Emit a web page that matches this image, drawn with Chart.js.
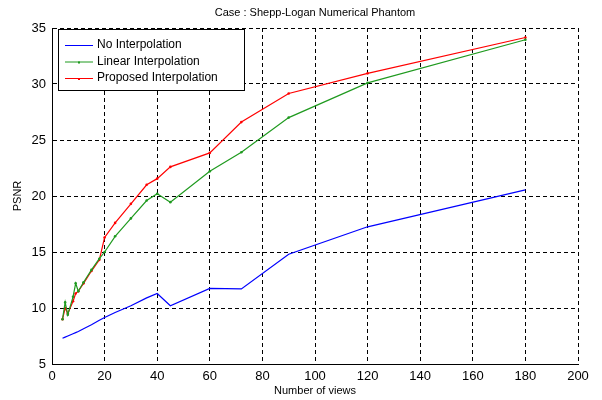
<!DOCTYPE html>
<html lang="en">
<head>
<meta charset="UTF-8">
<title>Case : Shepp-Logan Numerical Phantom</title>
<script src="https://cdn.jsdelivr.net/npm/chart.js"></script>
<style>
  html, body { margin: 0; padding: 0; background: #fff; }
</style>
</head>
<body>
<canvas id="grafica" width="602" height="400"></canvas>
<script>
// datos
const views = [4, 5, 6, 8, 9, 10, 12, 15, 18, 20, 24, 30, 36, 40, 45, 60, 72, 90, 120, 180];
const noInterp = [7.3, 7.4, 7.5, 7.7, 7.8, 7.9, 8.15, 8.5, 8.9, 9.15, 9.6, 10.2, 10.9, 11.3, 10.2, 11.75, 11.7, 14.8, 17.25, 20.55];
const linearInterp = [9.0, 10.5, 9.4, 11.0, 12.2, 11.5, 12.3, 13.4, 14.4, 15.0, 16.4, 18.0, 19.6, 20.2, 19.45, 22.2, 23.9, 27.0, 30.1, 33.95];
const proposedInterp = [9.0, 10.0, 9.5, 10.6, 11.3, 11.5, 12.2, 13.3, 14.3, 16.3, 17.6, 19.3, 21.0, 21.55, 22.6, 23.85, 26.6, 29.15, 30.95, 34.15];
const seriesNames = ['No Interpolation', 'Linear Interpolation', 'Proposed Interpolation'];
const seriesColors = ['#0000ff', '#1f9a1f', '#ff0000'];
const xRange = [0, 200, 20];
const yRange = [5, 35, 5];
const titulo = 'Case : Shepp-Logan Numerical Phantom';
const xLabel = 'Number of views';
const yLabel = 'PSNR';

const fuente = '"Liberation Sans", Arial, sans-serif';

function puntos(vals) {
  return views.map((v, i) => ({ x: v, y: vals[i] }));
}

const textos = {
  id: 'textos',
  afterDraw(chart) {
    const { ctx, chartArea: a } = chart;
    ctx.save();
    ctx.fillStyle = '#000';
    ctx.textBaseline = 'middle';
    ctx.textAlign = 'center';
    ctx.font = '11px ' + fuente;
    ctx.fillText(titulo, (a.left + a.right) / 2, 13);
    ctx.fillText(xLabel, (a.left + a.right) / 2, 391);
    ctx.save();
    ctx.translate(18, (a.top + a.bottom) / 2);
    ctx.rotate(-Math.PI / 2);
    ctx.fillText(yLabel, 0, 0);
    ctx.restore();

    // leyenda dentro del grafico
    const bx = a.left + 6, by = a.top + 1, bw = 186, bh = 61;
    ctx.fillStyle = '#fff';
    ctx.fillRect(bx, by, bw, bh);
    ctx.strokeStyle = '#000';
    ctx.lineWidth = 1;
    ctx.strokeRect(bx + 0.5, by + 0.5, bw, bh);
    ctx.font = '12px ' + fuente;
    ctx.textAlign = 'left';
    chart.data.datasets.forEach((ds, i) => {
      const y = by + 16 + i * 16.5;
      ctx.strokeStyle = ds.borderColor;
      ctx.beginPath();
      ctx.moveTo(bx + 7, y + 0.5);
      ctx.lineTo(bx + 35, y + 0.5);
      ctx.stroke();
      if (ds.pointRadius > 0) {
        ctx.fillStyle = ds.borderColor;
        ctx.fillRect(bx + 20, y, 2, 2);
      }
      ctx.fillStyle = '#000';
      ctx.fillText(ds.label, bx + 39, y);
    });
    ctx.restore();
  }
};

new Chart(document.getElementById('grafica'), {
  type: 'line',
  data: {
    datasets: [noInterp, linearInterp, proposedInterp].map((vals, i) => ({
      label: seriesNames[i],
      data: puntos(vals),
      borderColor: seriesColors[i],
      backgroundColor: seriesColors[i],
      borderWidth: 1.2,
      pointRadius: i === 0 ? 0 : 1.3,
      pointBorderWidth: 0,
      tension: 0,
      fill: false
    }))
  },
  options: {
    responsive: false,
    animation: false,
    devicePixelRatio: 1,
    layout: { padding: { top: 28, right: 24, left: 0, bottom: 0 } },
    plugins: {
      legend: { display: false },
      title: { display: false },
      tooltip: { enabled: false }
    },
    scales: {
      x: {
        type: 'linear',
        min: xRange[0],
        max: xRange[1],
        afterFit: s => { s.height = 36; },
        ticks: { stepSize: xRange[2], color: '#000', padding: 5, font: { size: 13, family: fuente } },
        grid: { color: '#000', lineWidth: 1, drawTicks: false },
        border: { color: '#000', width: 1, dash: [4, 3] }
      },
      y: {
        min: yRange[0],
        max: yRange[1],
        afterFit: s => { s.width = 52; },
        ticks: { stepSize: yRange[2], color: '#000', padding: 6, font: { size: 13, family: fuente } },
        grid: { color: '#000', lineWidth: 1, drawTicks: false },
        border: { color: '#000', width: 1, dash: [4, 3] }
      }
    }
  },
  plugins: [textos]
});
</script>
</body>
</html>
